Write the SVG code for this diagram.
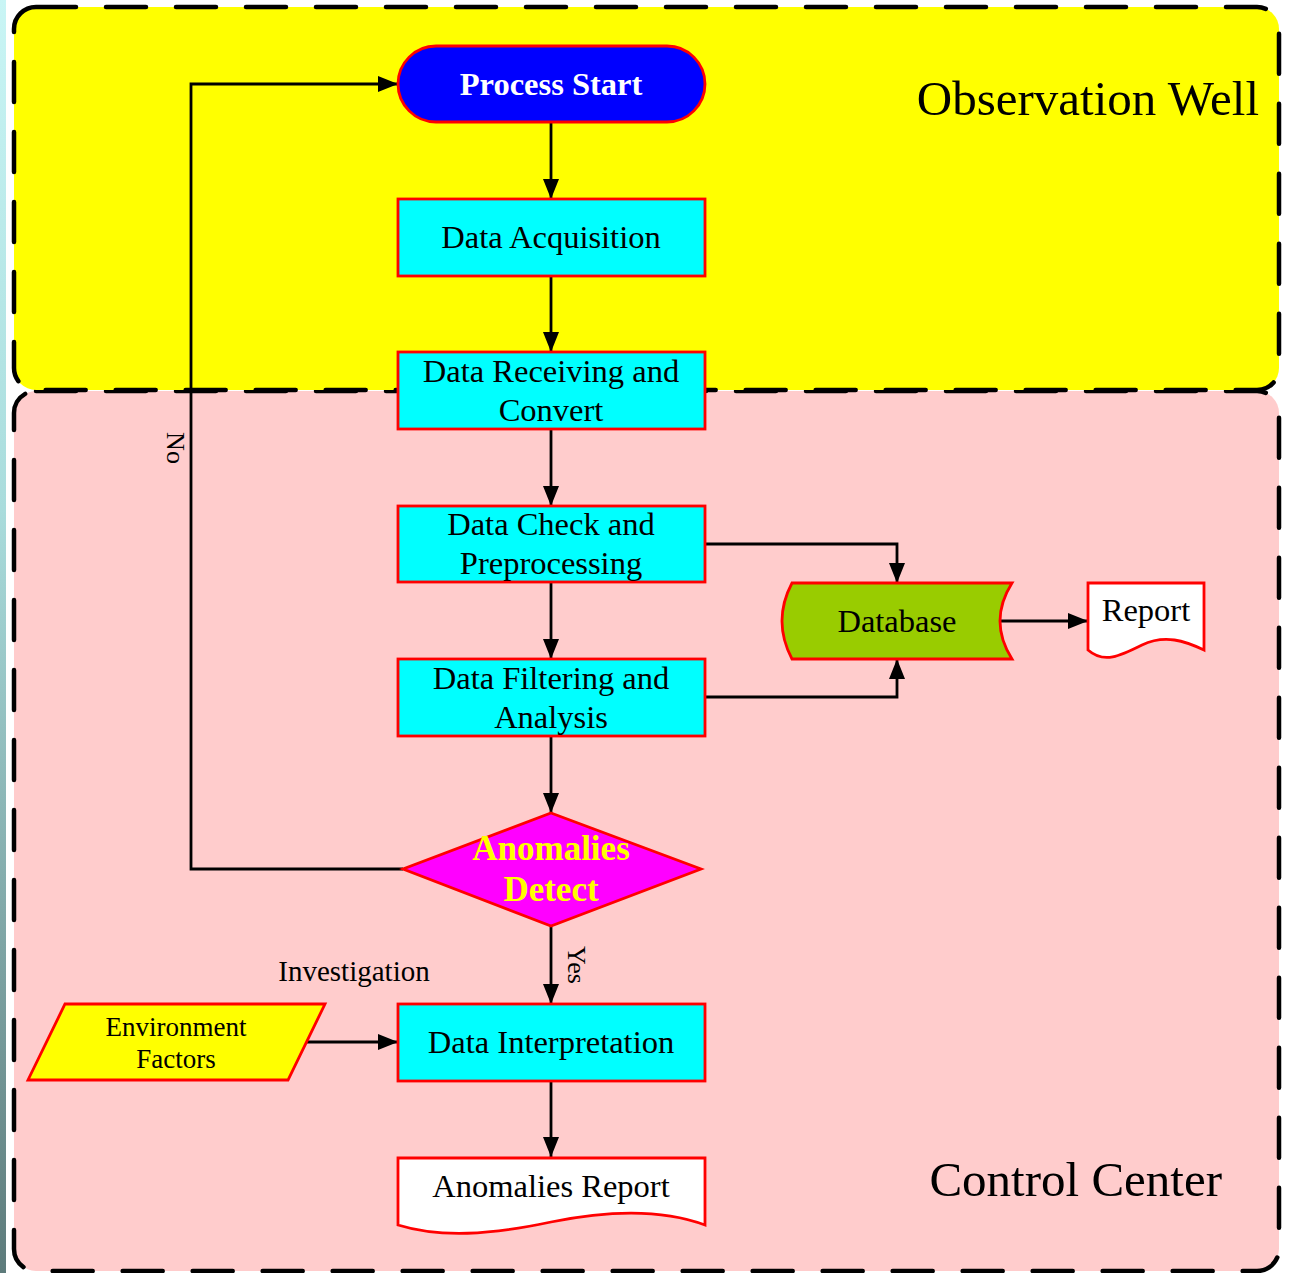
<svg xmlns="http://www.w3.org/2000/svg" width="1292" height="1273" viewBox="0 0 1292 1273">
  <defs>
    <linearGradient id="edgeStrip" x1="0" y1="0" x2="0" y2="1">
      <stop offset="0" stop-color="#c9f5f5"/>
      <stop offset="0.4" stop-color="#a9dcdc"/>
      <stop offset="1" stop-color="#5d7b7b"/>
    </linearGradient>
    <marker id="arrow" viewBox="0 0 20 16" refX="20" refY="8" markerWidth="20" markerHeight="16" markerUnits="userSpaceOnUse" orient="auto">
      <path d="M0,0 L20,8 L0,16 Z" fill="#000"/>
    </marker>
    <style>
      .lane { stroke: #000; stroke-width: 4.5; stroke-dasharray: 40 30; stroke-linecap: round; }
      .lane-title { font-family: "Liberation Serif", "Times New Roman", serif; font-size: 49px; fill: #000; }
      .shape { stroke: #ff0000; stroke-width: 2.8; }
      .proc { fill: #00ffff; }
      .label { font-family: "Liberation Serif", "Times New Roman", serif; font-size: 32.5px; fill: #000; text-anchor: middle; }
      .bold { font-weight: bold; }
      .small { font-size: 27px; }
      .edge-label { font-family: "Liberation Serif", "Times New Roman", serif; font-size: 26px; fill: #000; text-anchor: middle; }
      .note { font-size: 29px; }
      .wire { fill: none; stroke: #000; stroke-width: 2.8; }
    </style>
  </defs>

  <!-- page background -->
  <rect x="0" y="0" width="1292" height="1273" fill="#ffffff"/>
  <rect x="0" y="0" width="6" height="1273" fill="url(#edgeStrip)"/>

  <!-- swimlanes -->
  <g id="lane-control-center">
    <rect class="lane" x="14" y="391" width="1265" height="880" rx="22" fill="#ffcccc"/>
    <text class="lane-title" x="1222" y="1196" text-anchor="end">Control Center</text>
  </g>
  <g id="lane-observation-well">
    <rect class="lane" x="14" y="7" width="1265" height="383" rx="22" fill="#ffff00"/>
    <text class="lane-title" x="1259" y="115" text-anchor="end">Observation Well</text>
  </g>

  <!-- connectors -->
  <g id="connectors">
    <path class="wire" d="M551,122 V199" marker-end="url(#arrow)"/>
    <path class="wire" d="M551,276 V352" marker-end="url(#arrow)"/>
    <path class="wire" d="M551,429 V506" marker-end="url(#arrow)"/>
    <path class="wire" d="M551,582 V659" marker-end="url(#arrow)"/>
    <path class="wire" d="M551,736 V813" marker-end="url(#arrow)"/>
    <path class="wire" d="M551,926 V1004" marker-end="url(#arrow)"/>
    <path class="wire" d="M551,1081 V1157" marker-end="url(#arrow)"/>
    <path class="wire" d="M705,544 H897 V583" marker-end="url(#arrow)"/>
    <path class="wire" d="M705,697 H897 V659" marker-end="url(#arrow)"/>
    <path class="wire" d="M1000,621 H1088" marker-end="url(#arrow)"/>
    <path class="wire" d="M403,869 H191 V84 H398" marker-end="url(#arrow)"/>
    <path class="wire" d="M306,1042 H398" marker-end="url(#arrow)"/>
    <text class="edge-label" transform="translate(167,448) rotate(90)">No</text>
    <text class="edge-label" transform="translate(568,965) rotate(90)">Yes</text>
    <text class="edge-label note" x="354" y="981">Investigation</text>
  </g>

  <!-- nodes -->
  <g id="process-start">
    <rect class="shape" x="398" y="46" width="307" height="76" rx="38" fill="#0000ff"/>
    <text class="label bold" x="551" y="95" style="fill:#ffffff">Process Start</text>
  </g>
  <g id="data-acquisition">
    <rect class="shape proc" x="398" y="199" width="307" height="77"/>
    <text class="label" x="551" y="248">Data Acquisition</text>
  </g>
  <g id="data-receiving">
    <rect class="shape proc" x="398" y="352" width="307" height="77"/>
    <text class="label" x="551" y="382">Data Receiving and</text>
    <text class="label" x="551" y="421">Convert</text>
  </g>
  <g id="data-check">
    <rect class="shape proc" x="398" y="506" width="307" height="76"/>
    <text class="label" x="551" y="535">Data Check and</text>
    <text class="label" x="551" y="574">Preprocessing</text>
  </g>
  <g id="data-filtering">
    <rect class="shape proc" x="398" y="659" width="307" height="77"/>
    <text class="label" x="551" y="689">Data Filtering and</text>
    <text class="label" x="551" y="728">Analysis</text>
  </g>
  <g id="anomalies-detect">
    <polygon class="shape" points="551,813 701,869 551,926 403,869" fill="#ff00ff"/>
    <text class="label bold" x="551" y="860" style="fill:#ffff00;font-size:35px">Anomalies</text>
    <text class="label bold" x="551" y="901" style="fill:#ffff00;font-size:35px">Detect</text>
  </g>
  <g id="database">
    <path class="shape" d="M792,583 H1012 Q988,621 1012,659 H792 Q772,621 792,583 Z" fill="#99cc00"/>
    <text class="label" x="897" y="632">Database</text>
  </g>
  <g id="report">
    <path class="shape" d="M1088,583 H1204 V650 C1185,641 1165,634 1142,645 C1120,656 1104,664 1088,650 Z" fill="#ffffff"/>
    <text class="label" x="1146" y="621">Report</text>
  </g>
  <g id="environment-factors">
    <polygon class="shape" points="65,1004 325,1004 288,1080 28,1080" fill="#ffff00"/>
    <text class="label small" x="176" y="1036">Environment</text>
    <text class="label small" x="176" y="1068">Factors</text>
  </g>
  <g id="data-interpretation">
    <rect class="shape proc" x="398" y="1004" width="307" height="77"/>
    <text class="label" x="551" y="1053">Data Interpretation</text>
  </g>
  <g id="anomalies-report">
    <path class="shape" d="M398,1158 H705 V1225 C670,1212 620,1208 551,1222 C490,1235 440,1238 398,1225 Z" fill="#ffffff"/>
    <text class="label" x="551" y="1197">Anomalies Report</text>
  </g>
</svg>
